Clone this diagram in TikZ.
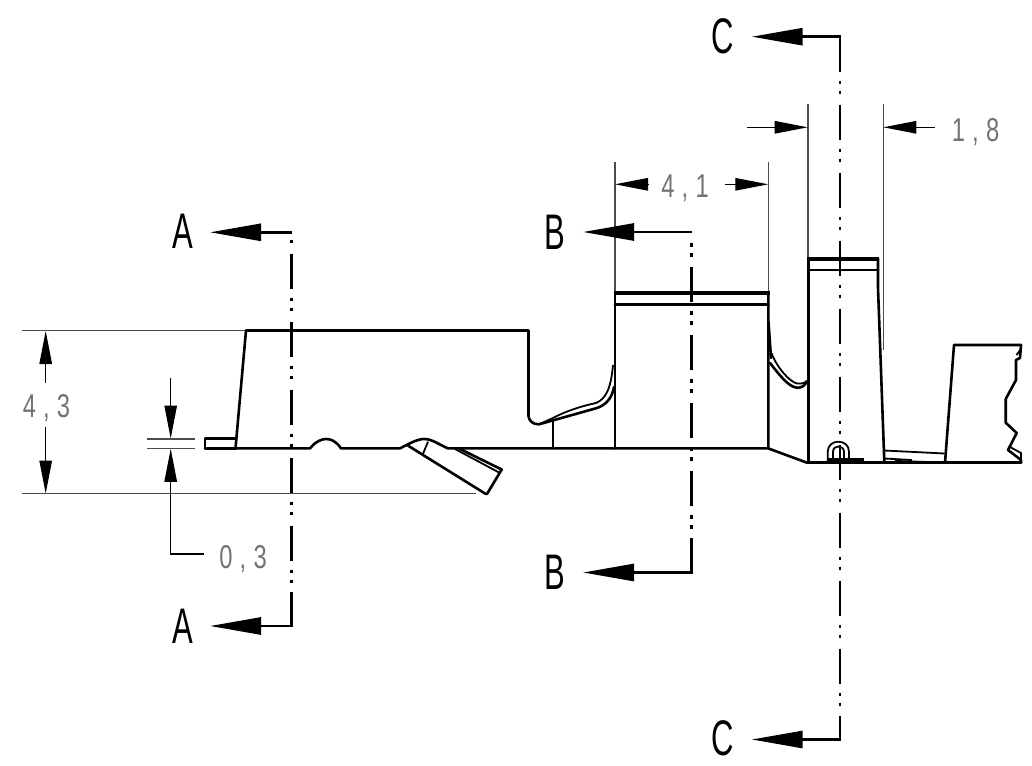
\documentclass[tikz,border=0pt]{standalone}
\usepackage{graphicx}
\usepackage{fontspec}
\newfontfamily\isofont{Liberation Sans}
\usetikzlibrary{arrows.meta}
\definecolor{dimgray}{gray}{0.45}
\definecolor{extgray}{gray}{0.3}
\newcommand{\secl}[1]{\scalebox{0.62}[1]{\isofont\fontsize{50}{50}\selectfont #1}}
\newcommand{\diml}[2]{\scalebox{0.72}[1]{\isofont\fontsize{33}{33}\selectfont #1\kern10pt,\kern10pt #2}}
\tikzset{
  part/.style={line width=2.6pt,line join=round,line cap=round,black},
  partthick/.style={line width=4pt,line join=miter,black},
  thinp/.style={line width=1.8pt,line join=round,black},
  extl/.style={line width=1.2pt,extgray},
  dimline/.style={line width=1.1pt,black},
  dimarrow/.style={-{Triangle[length=33pt,width=12.5pt]}},
  sect/.style={line width=2.7pt,black},
  secttip/.style={-{Triangle[length=51pt,width=17pt]}},
  chain/.style={line width=2.7pt,black,dash pattern=on 35pt off 9pt on 3.5pt off 6.5pt on 3.5pt off 10.5pt},
  seclabel/.style={inner sep=0pt,black},
  dimlabel/.style={inner sep=0pt,anchor=base,text=dimgray},
}
\begin{document}
\begin{tikzpicture}[x=1pt,y=-1pt]
\useasboundingbox (0,0) rectangle (1032,765);
\fill[white] (0,0) rectangle (1032,765);
% --- extension lines
\coordinate (e1a) at (22,330.5); \coordinate (e1b) at (246,330.5);
\coordinate (e2a) at (22,493.7); \coordinate (e2b) at (476,493.7);
\coordinate (e3a) at (147,439); \coordinate (e3b) at (195,439);
\coordinate (e4a) at (147,448.4); \coordinate (e4b) at (195,448.4);
\coordinate (e5a) at (615,162); \coordinate (e5b) at (615,293);
\coordinate (e6a) at (768.3,162); \coordinate (e6b) at (768.3,293);
\coordinate (e7a) at (808,104); \coordinate (e7b) at (808,259);
\coordinate (e8a) at (883.3,104); \coordinate (e8b) at (883.3,350);
\draw[extl] (e1a)--(e1b); \draw[extl] (e2a)--(e2b);
\draw[extl] (e3a)--(e3b); \draw[extl] (e4a)--(e4b);
\draw[extl] (e5a)--(e5b); \draw[extl] (e6a)--(e6b);
\draw[extl] (e7a)--(e7b); \draw[extl] (e8a)--(e8b);
% --- part, left
\draw[part] (236,448.4) -- (205,448.4) -- (205,438.7) -- (236,438.7);
\draw[part] (246,330.5) -- (235.5,448.4);
\draw[part] (246,330.5) -- (528.5,330.5) -- (528.5,416)
  .. controls (529,421) and (533,424.5) .. (539,424.3)
  -- (597,408) .. controls (606,405) and (612,398) .. (614,387);
\draw[thinp] (553,418) .. controls (566,411) and (582,406) .. (596,403)
  .. controls (606,399) and (611,388) .. (613,365);
\draw[thinp] (539,424.3) -- (553,418);
\draw[thinp] (553,420) -- (553,448.4);
% bottom line with bumps
\draw[part] (205,448.4) -- (310,448.4) .. controls (316,441) and (322,439) .. (326,439)
  .. controls (331,439) and (336,441) .. (341,448.4) -- (400,448.4)
  .. controls (410,443) and (418,439) .. (424,439)
  .. controls (432,439) and (438,444) .. (448,448.4) -- (768.3,448.4);
% tilted foot
\draw[part] (407,445) -- (485,493.5) -- (487,494) -- (501.7,469.5) -- (460,449);
\draw[thinp] (500,473) -- (455,449);
\draw[thinp] (428,441.7) -- (422.7,454.5);
% --- middle block
\draw[part] (615,293) -- (615,448.4);
\draw[part] (768.3,293) -- (768.3,448.4) -- (807,462.7);
\draw[partthick] (613.7,293) -- (769.6,293);
\draw[part] (615,304.5) -- (768.3,304.5);
\draw[part] (768.5,322) -- (771,358);
\draw[part] (770,363) .. controls (778,373) and (788,387) .. (797,387.7)
  .. controls (801,388) and (805,386) .. (807,381);
\draw[thinp] (771.5,353) .. controls (777,368) and (790,382) .. (797,383.5)
  .. controls (801,384) and (805,383) .. (807,381);
% --- right block
\draw[part] (808.3,259) -- (808.3,462.7);
\draw[partthick] (807,258.5) -- (879.3,258.5);
\draw[part] (808.3,270) -- (878,270);
\draw[part] (878,258.5) -- (878,288) -- (884.3,461.7);
\draw[part] (807,462.7) -- (1021,462.7);
% loop
\draw[thinp] (827.7,461) -- (827.7,452) .. controls (827.7,445) and (833,441.7) .. (838.3,441.7)
  .. controls (844,441.7) and (849,445) .. (849,452) -- (849,461);
\draw[thinp] (833,460) -- (833,452) .. controls (833,448) and (835.5,446.5) .. (838.3,446.5)
  .. controls (841,446.5) and (844,448) .. (844,452) -- (844,460);
\draw[line width=3.4pt,black] (828,459.5) -- (864,459.5);
% --- small web and right section
\draw[thinp] (884.3,450.5) -- (944.5,453.5);
\draw[thinp] (884.3,458.5) -- (912,460);
\draw[line width=2pt,black] (895,461) -- (925,462);
\draw[part] (945,462.7) -- (954,345) -- (1021,345);
\draw[part] (1021,345) -- (1020,358) -- (1016,360) -- (1016,380) -- (1005.7,399)
  -- (1005.7,422.7) -- (1016.7,433) -- (1008,450) -- (1021,460) -- (1021,462.7);
\draw[thinp] (1010,447) -- (1021,453) -- (1021,462);
\draw[thinp] (1016.5,355) -- (1021,349);
% --- section line A
\coordinate (a0) at (291.7,239.5); \coordinate (a1) at (291.7,626);
\coordinate (a0c) at (291.7,232.3); \coordinate (a0t) at (210,232.3);
\coordinate (a1c) at (291.7,626); \coordinate (a1t) at (210,626);
\draw[chain,dash phase=54pt] (a0) -- (a1);
\draw[sect,secttip] (a0c) -- (a0t);
\draw[sect,secttip,line join=miter] (291.7,592) -- (a1c) -- (a1t);
% --- section line B
\coordinate (b0) at (691.7,243); \coordinate (b1) at (691.7,572.5);
\coordinate (b0t) at (583,232); \coordinate (b0c) at (691.7,232);
\coordinate (b1t) at (583,572.5);
\draw[chain,dash phase=44pt] (b0) -- (b1);
\draw[sect,secttip] (b0c) -- (b0t);
\draw[sect,secttip,line join=miter] (691.7,538) -- (b1) -- (b1t);
% --- section line C
\coordinate (c0) at (840,36.7); \coordinate (c1) at (840,739.5);
\coordinate (c0t) at (751.7,36.7); \coordinate (c1t) at (751.7,739.5);
\draw[chain] (c0) -- (c1);
\draw[sect,secttip,line join=miter] (840,71.7) -- (c0) -- (c0t);
\draw[sect,secttip,line join=miter] (840,716) -- (c1) -- (c1t);
% --- dimension 4,3
\coordinate (d1t) at (45.7,331); \coordinate (d1s) at (45.7,383);
\coordinate (d2t) at (45.7,493.5); \coordinate (d2s) at (45.7,427);
\draw[dimline,dimarrow] (d1s) -- (d1t);
\draw[dimline,dimarrow] (d2s) -- (d2t);
% --- dimension 0,3
\coordinate (d3t) at (170.7,438.5); \coordinate (d3s) at (170.7,378);
\coordinate (d4t) at (170.7,448.8); \coordinate (d4k) at (170.7,554); \coordinate (d4s) at (204,554);
\draw[dimline,dimarrow] (d3s) -- (d3t);
\draw[dimline,dimarrow] (d4s) -- (d4k) -- (d4t);
% --- dimension 4,1
\coordinate (d5t) at (615,184.3); \coordinate (d5s) at (648,184.3);
\coordinate (d6t) at (768.3,184.3); \coordinate (d6s) at (725,184.3);
\draw[dimline,dimarrow] (d5s) -- (d5t);
\draw[dimline,dimarrow] (d6s) -- (d6t);
% --- dimension 1,8
\coordinate (d7t) at (807.7,127.3); \coordinate (d7s) at (747,127.3);
\coordinate (d8t) at (883.3,127.3); \coordinate (d8s) at (935,127.3);
\draw[dimline,dimarrow] (d7s) -- (d7t);
\draw[dimline,dimarrow] (d8s) -- (d8t);
% --- labels
\node[seclabel] (la1) at (183,231.5) {\secl{A}};
\node[seclabel] (la2) at (183,626) {\secl{A}};
\node[seclabel] (lb1) at (555,232) {\secl{B}};
\node[seclabel] (lb2) at (555,572) {\secl{B}};
\node[seclabel] (lc1) at (722.5,36.5) {\secl{C}};
\node[seclabel] (lc2) at (722.5,738) {\secl{C}};
\node[dimlabel] (t43) at (46.5,417) {\diml{4}{3}};
\node[dimlabel] (t03) at (243,568) {\diml{0}{3}};
\node[dimlabel] (t41) at (685,197) {\diml{4}{1}};
\node[dimlabel] (t18) at (975.5,141) {\diml{1}{8}};
\end{tikzpicture}
\end{document}
